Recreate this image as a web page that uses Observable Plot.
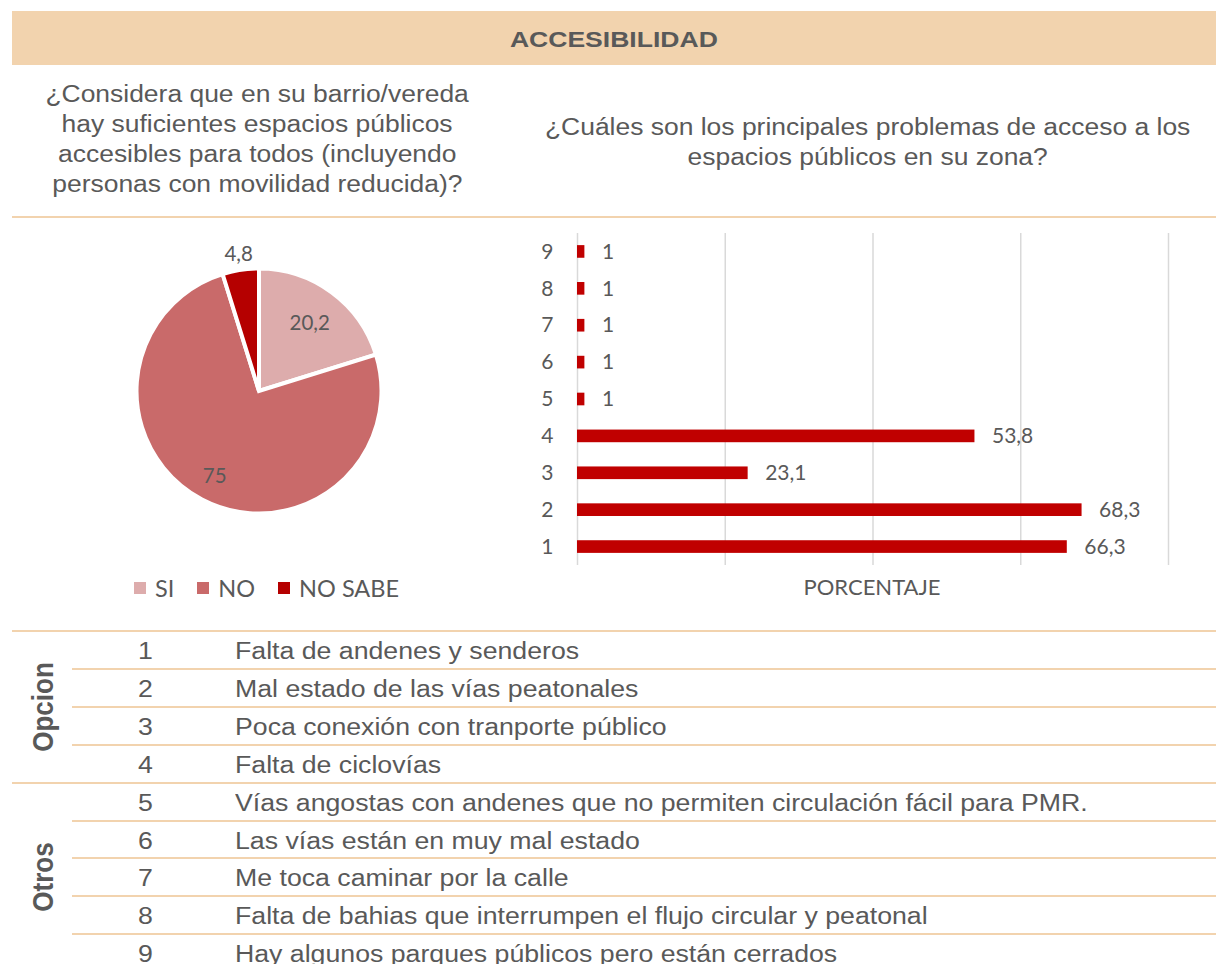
<!DOCTYPE html>
<html><head><meta charset="utf-8">
<script src="https://cdn.jsdelivr.net/npm/d3@7"></script>
<script src="https://cdn.jsdelivr.net/npm/@observablehq/plot@0.6"></script>
<style>
body{margin:0;background:#fff;}
#page{position:relative;width:1216px;height:964px;overflow:hidden;font-family:"Liberation Sans",Arial,sans-serif;color:#595959;}
.sx{display:inline-block;white-space:nowrap;}
svg{overflow:visible;}
</style></head><body><div id="page"></div>
<script>
// ---------- data ----------
const sectionTitle = "ACCESIBILIDAD";
const question1 = ["¿Considera que en su barrio/vereda", "hay suficientes espacios públicos", "accesibles para todos (incluyendo", "personas con movilidad reducida)?"];
const question2 = ["¿Cuáles son los principales problemas de acceso a los", "espacios públicos en su zona?"];

const pieLabels = ["SI", "NO", "NO SABE"];
const pieValues = [20.2, 75, 4.8];
const pieColors = ["#DDACAC", "#C96A6A", "#B50000"];

const options = [1, 2, 3, 4, 5, 6, 7, 8, 9];
const percentages = [66.3, 68.3, 23.1, 53.8, 1, 1, 1, 1, 1];
const xTicks = [0, 20, 40, 60, 80];
const xAxisTitle = "PORCENTAJE";

const optionTexts = [
  "Falta de andenes y senderos",
  "Mal estado de las vías peatonales",
  "Poca conexión con tranporte público",
  "Falta de ciclovías",
  "Vías angostas con andenes que no permiten circulación fácil para PMR.",
  "Las vías están en muy mal estado",
  "Me toca caminar por la calle",
  "Falta de bahias que interrumpen el flujo circular y peatonal",
  "Hay algunos parques públicos pero están cerrados"
];
const groupNames = ["Opcion", "Otros"];
const groupSizes = [4, 5];

// ---------- helpers ----------
const fmt = v => String(v).replace(".", ",");
const page = document.getElementById("page");
function el(tag, css, html) {
  const e = document.createElement(tag);
  e.style.cssText = css;
  if (html !== undefined) e.innerHTML = html;
  page.appendChild(e);
  return e;
}
const LINE = "#F2D3AE";
const TXT = "#595959";

// ---------- header ----------
el("div", `position:absolute;left:12px;top:11px;width:1204px;height:54px;background:#F2D3AE;`);
el("div", `position:absolute;left:12px;top:12px;width:1204px;height:54px;line-height:54px;text-align:center;font-weight:bold;font-size:22.7px;color:${TXT};`,
   `<span class="sx" style="transform:scaleX(1.17)">${sectionTitle}</span>`);

// ---------- questions ----------
question1.forEach((t, i) => {
  el("div", `position:absolute;left:7px;width:500px;top:${78.7 + 30 * i}px;height:30px;line-height:30px;text-align:center;font-size:23px;`,
     `<span class="sx" style="transform:scaleX(1.15)">${t}</span>`);
});
question2.forEach((t, i) => {
  el("div", `position:absolute;left:518px;width:700px;top:${112 + 30 * i}px;height:30px;line-height:30px;text-align:center;font-size:23px;`,
     `<span class="sx" style="transform:scaleX(1.15)">${t}</span>`);
});
el("div", `position:absolute;left:12px;top:216px;width:1204px;height:2px;background:${LINE};`);

// ---------- pie ----------
const colorScale = Plot.scale({color: {type: "ordinal", domain: pieLabels, range: pieColors}});
const pieData = pieLabels.map((label, i) => ({label, value: pieValues[i]}));
const arcs = d3.pie().sort(null).value(d => d.value)(pieData);
const labelRadius = v => v < 10 ? 1.153 : (v > 50 ? 0.8 : 0.702);
const pieDomain = 150 / 120.5;

function pieSlices(index, scales) {
  const cx = scales.x(0), cy = scales.y(0);
  const r = Math.abs(scales.x(1) - scales.x(0));
  const arc = d3.arc().innerRadius(0).outerRadius(r + 2);
  const g = d3.create("svg:g").attr("transform", `translate(${cx},${cy})`);
  g.selectAll("path").data(arcs).join("path")
    .attr("d", arc)
    .attr("fill", d => colorScale.apply(d.data.label))
    .attr("stroke", "#fff")
    .attr("stroke-width", 4)
    .attr("stroke-linejoin", "miter");
  return g.node();
}

const pie = Plot.plot({
  width: 300, height: 300,
  marginTop: 0, marginRight: 0, marginBottom: 0, marginLeft: 0,
  x: {domain: [-pieDomain, pieDomain], axis: null},
  y: {domain: [-pieDomain, pieDomain], axis: null},
  style: {background: "transparent", fontFamily: "Lato, sans-serif"},
  marks: [
    pieSlices,
    Plot.text(arcs, {
      x: d => Math.sin((d.startAngle + d.endAngle) / 2) * labelRadius(d.data.value),
      y: d => Math.cos((d.startAngle + d.endAngle) / 2) * labelRadius(d.data.value),
      text: d => fmt(d.data.value),
      fill: TXT, fontSize: 20.5
    })
  ]
});
const pieWrap = el("div", `position:absolute;left:109px;top:241px;width:300px;height:300px;`);
pieWrap.appendChild(pie);

// legend
const legend = el("div", `position:absolute;left:134px;top:574px;height:28px;display:flex;align-items:center;font-family:Lato,sans-serif;font-size:23.5px;color:${TXT};`);
colorScale.domain.forEach((k, i) => {
  const item = document.createElement("div");
  item.style.cssText = "display:flex;align-items:center;margin-right:23px;";
  item.innerHTML = `<span style="display:inline-block;width:12px;height:12px;background:${colorScale.apply(k)};margin-right:9px;"></span><span>${k}</span>`;
  legend.appendChild(item);
});

// ---------- bar chart ----------
const barData = options.map((opt, i) => ({opt, value: percentages[i]}));
const bars = Plot.plot({
  width: 680, height: 375,
  marginLeft: 57, marginRight: 32, marginTop: 8, marginBottom: 35,
  x: {domain: [0, 80], axis: null},
  y: {domain: options.slice().reverse(), paddingInner: 0.657, paddingOuter: 0.3285, round: false, tickSize: 0, tickPadding: 24, label: null},
  style: {background: "transparent", fontFamily: "Lato, sans-serif", fontSize: "21px", color: TXT},
  marks: [
    Plot.ruleX(xTicks, {stroke: "#D9D9D9", strokeWidth: 1.5}),
    Plot.barX(barData, {x: "value", y: "opt", fill: "#C00000"}),
    Plot.text(barData, {x: "value", y: "opt", text: d => fmt(d.value), dx: 17, textAnchor: "start", fill: TXT, fontSize: 21})
  ]
});
const barWrap = el("div", `position:absolute;left:520px;top:225px;width:680px;height:375px;`);
barWrap.appendChild(bars);
el("div", `position:absolute;left:722px;width:300px;top:573.5px;line-height:26px;text-align:center;font-family:Lato,sans-serif;font-size:22px;color:${TXT};`, xAxisTitle);

// ---------- table ----------
const rowTop = i => 631 + 37.9 * i;
let groupStart = 0;
const groupStarts = groupSizes.map(s => { const g = groupStart; groupStart += s; return g; });
optionTexts.forEach((t, i) => {
  const isGroupStart = groupStarts.includes(i);
  el("div", `position:absolute;left:${isGroupStart ? 12 : 72}px;right:0;top:${rowTop(i) - 1}px;height:2px;background:${LINE};`);
  el("div", `position:absolute;left:95px;width:100px;top:${rowTop(i) + 1}px;height:38px;line-height:38px;text-align:center;font-size:23px;`,
     `<span class="sx" style="transform:scaleX(1.16)">${options[i]}</span>`);
  el("div", `position:absolute;left:235px;top:${rowTop(i) + 1}px;height:38px;line-height:38px;font-size:23px;`,
     `<span class="sx" style="transform:scaleX(1.16);transform-origin:left center">${t}</span>`);
});
groupNames.forEach((g, gi) => {
  const cy = rowTop(groupStarts[gi]) + 37.9 * groupSizes[gi] / 2;
  el("div", `position:absolute;left:43px;top:${cy}px;width:0;height:0;`,
     `<span style="position:absolute;left:0;top:0;white-space:nowrap;font-weight:bold;font-size:26px;line-height:26px;transform:translate(-50%,-50%) rotate(-90deg) scaleY(1.1);">${g}</span>`);
});
</script>
</body></html>
